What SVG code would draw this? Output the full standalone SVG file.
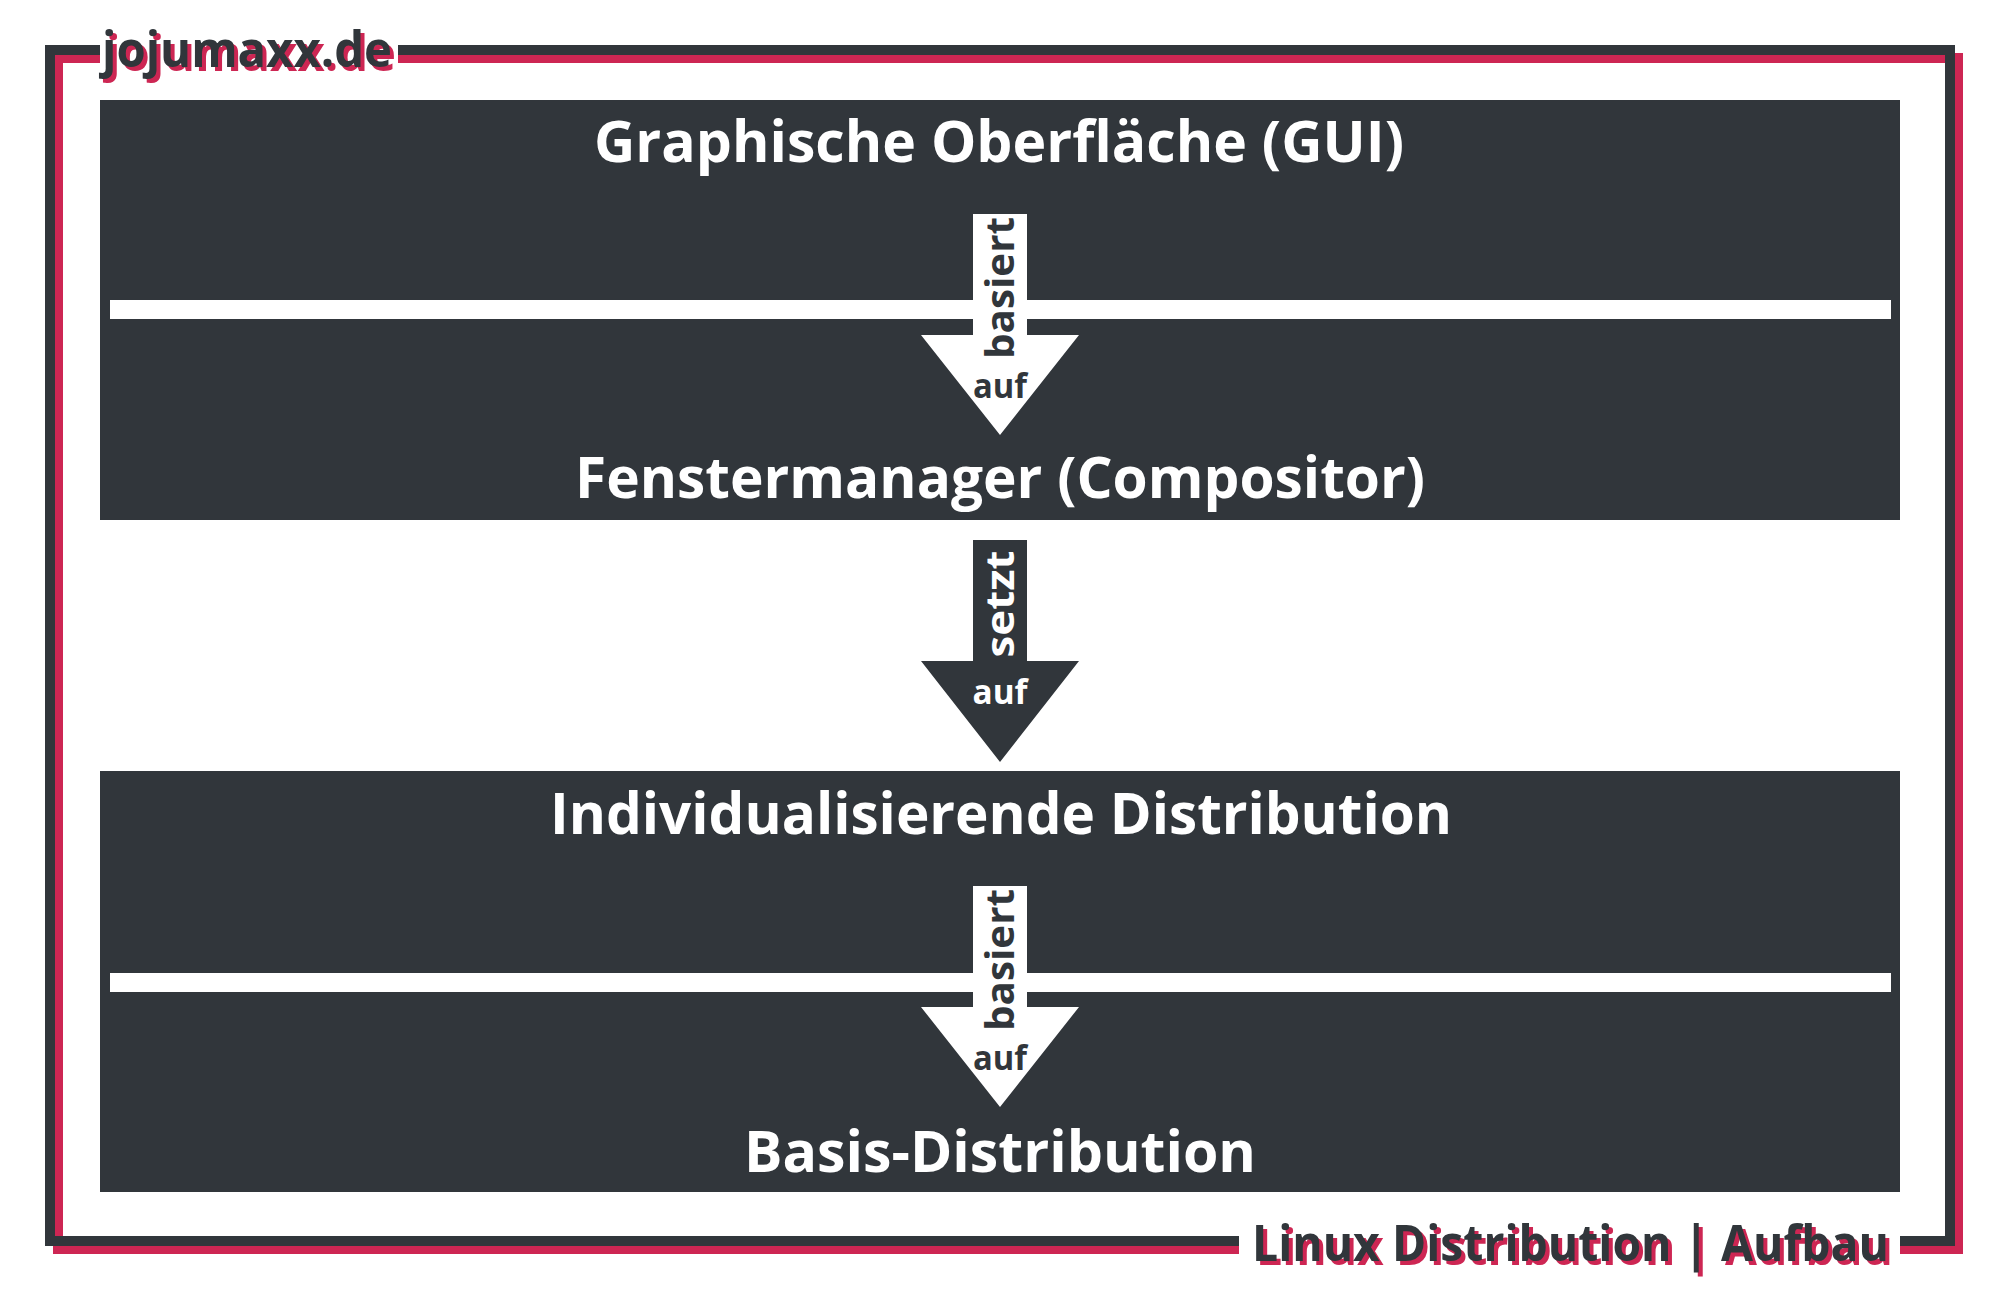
<svg xmlns="http://www.w3.org/2000/svg" width="2000" height="1292" viewBox="0 0 2000 1292">
  <style>
    .dark { fill: #31363b; }
    .frame { fill: none; stroke-width: 10; stroke-linejoin: miter; stroke-linecap: butt; }
    .t { font-family: "Open Sans", "Noto Sans", "DejaVu Sans", sans-serif; font-weight: 700; }
    .label { font-size: 57px; fill: #ffffff; text-anchor: middle; }
    .brand { font-size: 50px; }
    .vert { font-size: 40px; text-anchor: middle; }
    .auf { font-size: 34px; text-anchor: middle; }
    .sep { fill: #ffffff; }
  </style>
  <rect x="0" y="0" width="2000" height="1292" fill="#ffffff"/>

  <g id="frame">
    <path class="frame" stroke="#cd2653" d="M100,58 H58 V1249 H1239 M1900,1249 H1958 V58 H398"/>
    <path class="frame" stroke="#31363b" d="M100,50 H50 V1241 H1239 M1900,1241 H1950 V50 H398"/>
  </g>

  <g id="title">
    <text class="t brand" x="106" y="71" fill="#cd2653" textLength="290" lengthAdjust="spacingAndGlyphs">jojumaxx.de</text>
    <text class="t brand" x="102" y="67" fill="#31363b" textLength="290" lengthAdjust="spacingAndGlyphs">jojumaxx.de</text>
  </g>

  <g id="subtitle">
    <text class="t brand" x="1256" y="1265" fill="#cd2653" textLength="637" lengthAdjust="spacingAndGlyphs">Linux Distribution | Aufbau</text>
    <text class="t brand" x="1252" y="1261" fill="#31363b" textLength="637" lengthAdjust="spacingAndGlyphs">Linux Distribution | Aufbau</text>
  </g>

  <g id="block-upper">
    <rect class="dark" x="100" y="100" width="1800" height="420"/>
    <rect class="sep" x="110" y="300" width="1781" height="19"/>
    <g id="node-gui">
      <text class="t label" x="999" y="162" textLength="810" lengthAdjust="spacingAndGlyphs">Graphische Oberfläche (GUI)</text>
    </g>
    <g id="node-wm">
      <text class="t label" x="1000" y="498" textLength="850" lengthAdjust="spacingAndGlyphs">Fenstermanager (Compositor)</text>
    </g>
  </g>

  <g id="block-lower">
    <rect class="dark" x="100" y="771" width="1800" height="421"/>
    <rect class="sep" x="110" y="973" width="1781" height="19"/>
    <g id="node-indiv">
      <text class="t label" x="1001" y="834" textLength="902" lengthAdjust="spacingAndGlyphs">Individualisierende Distribution</text>
    </g>
    <g id="node-basis">
      <text class="t label" x="1000" y="1172" textLength="512" lengthAdjust="spacingAndGlyphs">Basis-Distribution</text>
    </g>
  </g>

  <g id="connectors">
    <g id="arrow-gui-wm">
      <polygon fill="#ffffff" points="973,214 1027,214 1027,335 1079,335 1000,435 921,335 973,335"/>
      <text class="t vert" fill="#31363b" transform="translate(1014,288) rotate(-90)" textLength="142" lengthAdjust="spacingAndGlyphs">basiert</text>
      <text class="t auf" fill="#31363b" x="1000" y="398" textLength="54" lengthAdjust="spacingAndGlyphs">auf</text>
    </g>
    <g id="arrow-wm-indiv">
      <polygon class="dark" points="973,540 1027,540 1027,661 1079,661 1000,762 921,661 973,661"/>
      <text class="t vert" fill="#ffffff" transform="translate(1014,604) rotate(-90)" textLength="107" lengthAdjust="spacingAndGlyphs">setzt</text>
      <text class="t auf" fill="#ffffff" x="1000" y="704" textLength="55" lengthAdjust="spacingAndGlyphs">auf</text>
    </g>
    <g id="arrow-indiv-basis">
      <polygon fill="#ffffff" points="973,886 1027,886 1027,1007 1079,1007 1000,1107 921,1007 973,1007"/>
      <text class="t vert" fill="#31363b" transform="translate(1014,960) rotate(-90)" textLength="142" lengthAdjust="spacingAndGlyphs">basiert</text>
      <text class="t auf" fill="#31363b" x="1000" y="1070" textLength="54" lengthAdjust="spacingAndGlyphs">auf</text>
    </g>
  </g>
</svg>
